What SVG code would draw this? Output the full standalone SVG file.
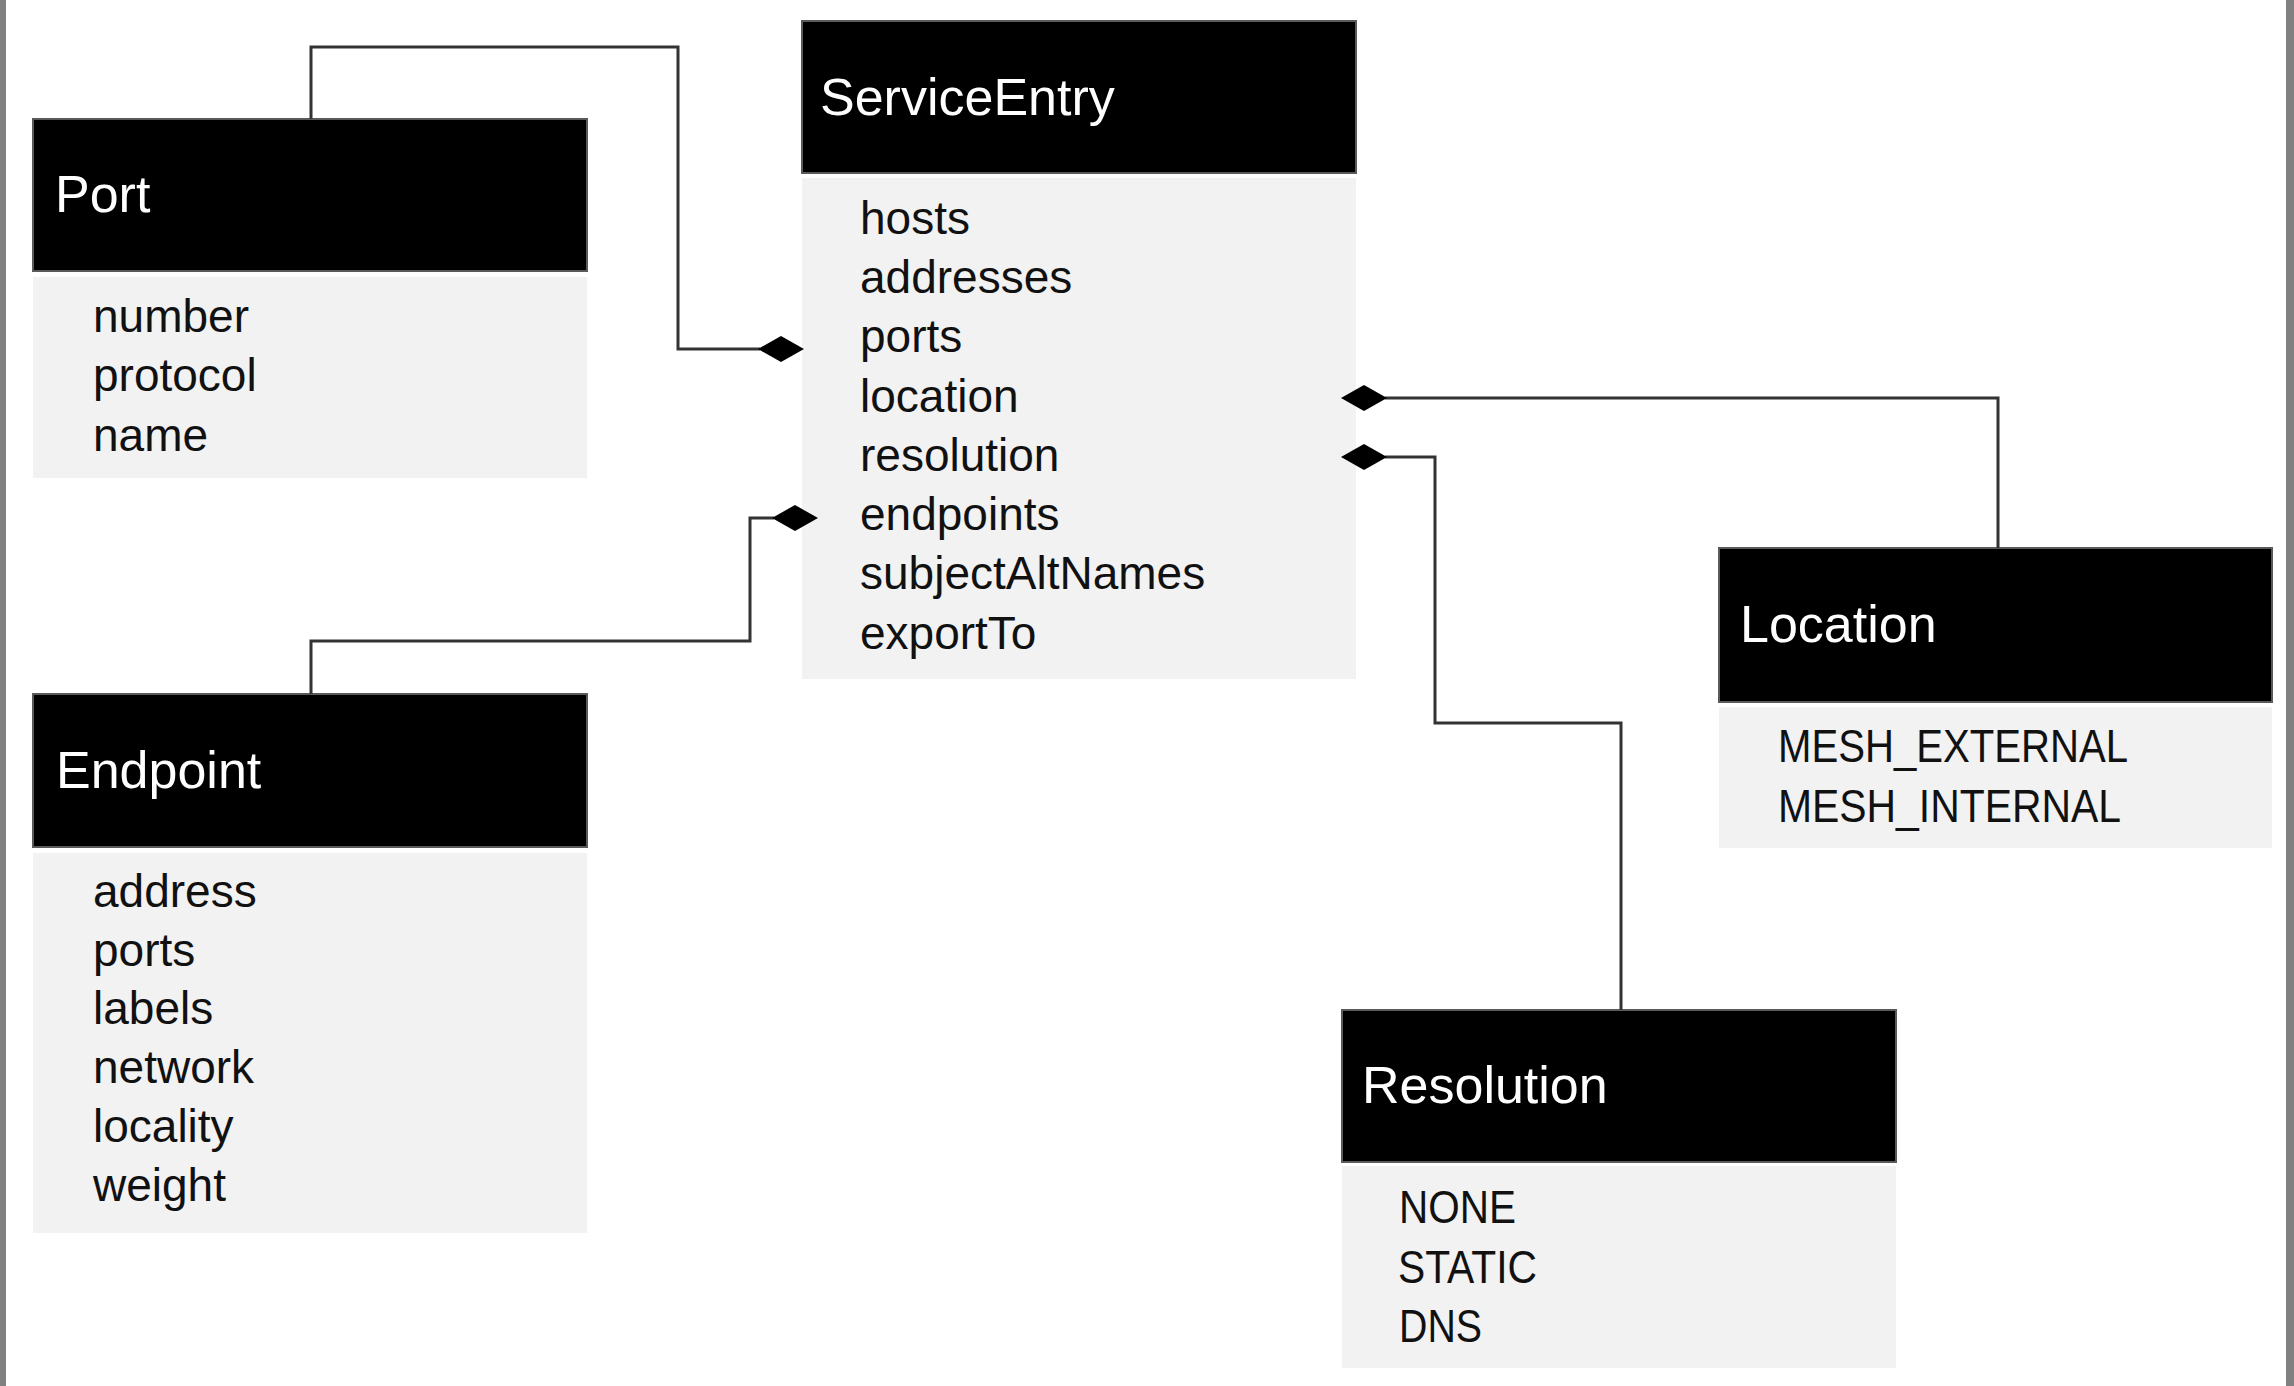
<svg xmlns="http://www.w3.org/2000/svg" width="2294" height="1386" viewBox="0 0 2294 1386">
<style>
.hdr{fill:#000;stroke:#5a5a5a;stroke-width:2}
.body{fill:#f2f2f2}
.title{font-family:"Liberation Sans",Arial,sans-serif;font-size:52px;fill:#fff}
.item{font-family:"Liberation Sans",Arial,sans-serif;font-size:46px;fill:#111}
.conn{fill:none;stroke:#333;stroke-width:3}
.dia{fill:#000}
</style>
<rect x="0" y="0" width="2294" height="1386" fill="#fff"/>
<rect x="0" y="0" width="6" height="1386" fill="#808080"/>
<rect x="2286" y="0" width="8" height="1386" fill="#808080"/>
<g id="port">
<rect class="hdr" x="33" y="119" width="554" height="152"/>
<rect class="body" x="33" y="277" width="554" height="201"/>
<text class="title" x="55" y="212">Port</text>
<text class="item" x="93" y="332">number</text>
<text class="item" x="93" y="391">protocol</text>
<text class="item" x="93" y="451">name</text>
</g>
<g id="serviceentry">
<rect class="hdr" x="802" y="21" width="554" height="152"/>
<rect class="body" x="802" y="178" width="554" height="501"/>
<text class="title" x="820" y="115">ServiceEntry</text>
<text class="item" x="860" y="234">hosts</text>
<text class="item" x="860" y="293">addresses</text>
<text class="item" x="860" y="352">ports</text>
<text class="item" x="860" y="412">location</text>
<text class="item" x="860" y="471">resolution</text>
<text class="item" x="860" y="530">endpoints</text>
<text class="item" x="860" y="589">subjectAltNames</text>
<text class="item" x="860" y="649">exportTo</text>
</g>
<g id="endpoint">
<rect class="hdr" x="33" y="694" width="554" height="153"/>
<rect class="body" x="33" y="853" width="554" height="380"/>
<text class="title" x="56" y="788">Endpoint</text>
<text class="item" x="93" y="907">address</text>
<text class="item" x="93" y="966">ports</text>
<text class="item" x="93" y="1024">labels</text>
<text class="item" x="93" y="1083">network</text>
<text class="item" x="93" y="1142">locality</text>
<text class="item" x="93" y="1201">weight</text>
</g>
<g id="location">
<rect class="hdr" x="1719" y="548" width="553" height="154"/>
<rect class="body" x="1719" y="707" width="553" height="141"/>
<text class="title" x="1740" y="642">Location</text>
<text class="item" x="1778" y="762" textLength="350" lengthAdjust="spacingAndGlyphs">MESH_EXTERNAL</text>
<text class="item" x="1778" y="822" textLength="343" lengthAdjust="spacingAndGlyphs">MESH_INTERNAL</text>
</g>
<g id="resolution">
<rect class="hdr" x="1342" y="1010" width="554" height="152"/>
<rect class="body" x="1342" y="1166" width="554" height="202"/>
<text class="title" x="1362" y="1103">Resolution</text>
<text class="item" x="1399" y="1223" textLength="117" lengthAdjust="spacingAndGlyphs">NONE</text>
<text class="item" x="1398" y="1283" textLength="139" lengthAdjust="spacingAndGlyphs">STATIC</text>
<text class="item" x="1399" y="1342" textLength="83" lengthAdjust="spacingAndGlyphs">DNS</text>
</g>
<g id="connectors">
<path class="conn" d="M311,119 V47 H678 V349 H760"/>
<polygon class="dia" points="758,349 781,336 804,349 781,362"/>
<path class="conn" d="M311,694 V641 H750 V518 H774"/>
<polygon class="dia" points="772,518 795,505 818,518 795,531"/>
<path class="conn" d="M1385,398 H1998 V548"/>
<polygon class="dia" points="1341,398 1364,385 1387,398 1364,411"/>
<path class="conn" d="M1385,457 H1435 V723 H1621 V1010"/>
<polygon class="dia" points="1341,457 1364,444 1387,457 1364,470"/>
</g>
</svg>
